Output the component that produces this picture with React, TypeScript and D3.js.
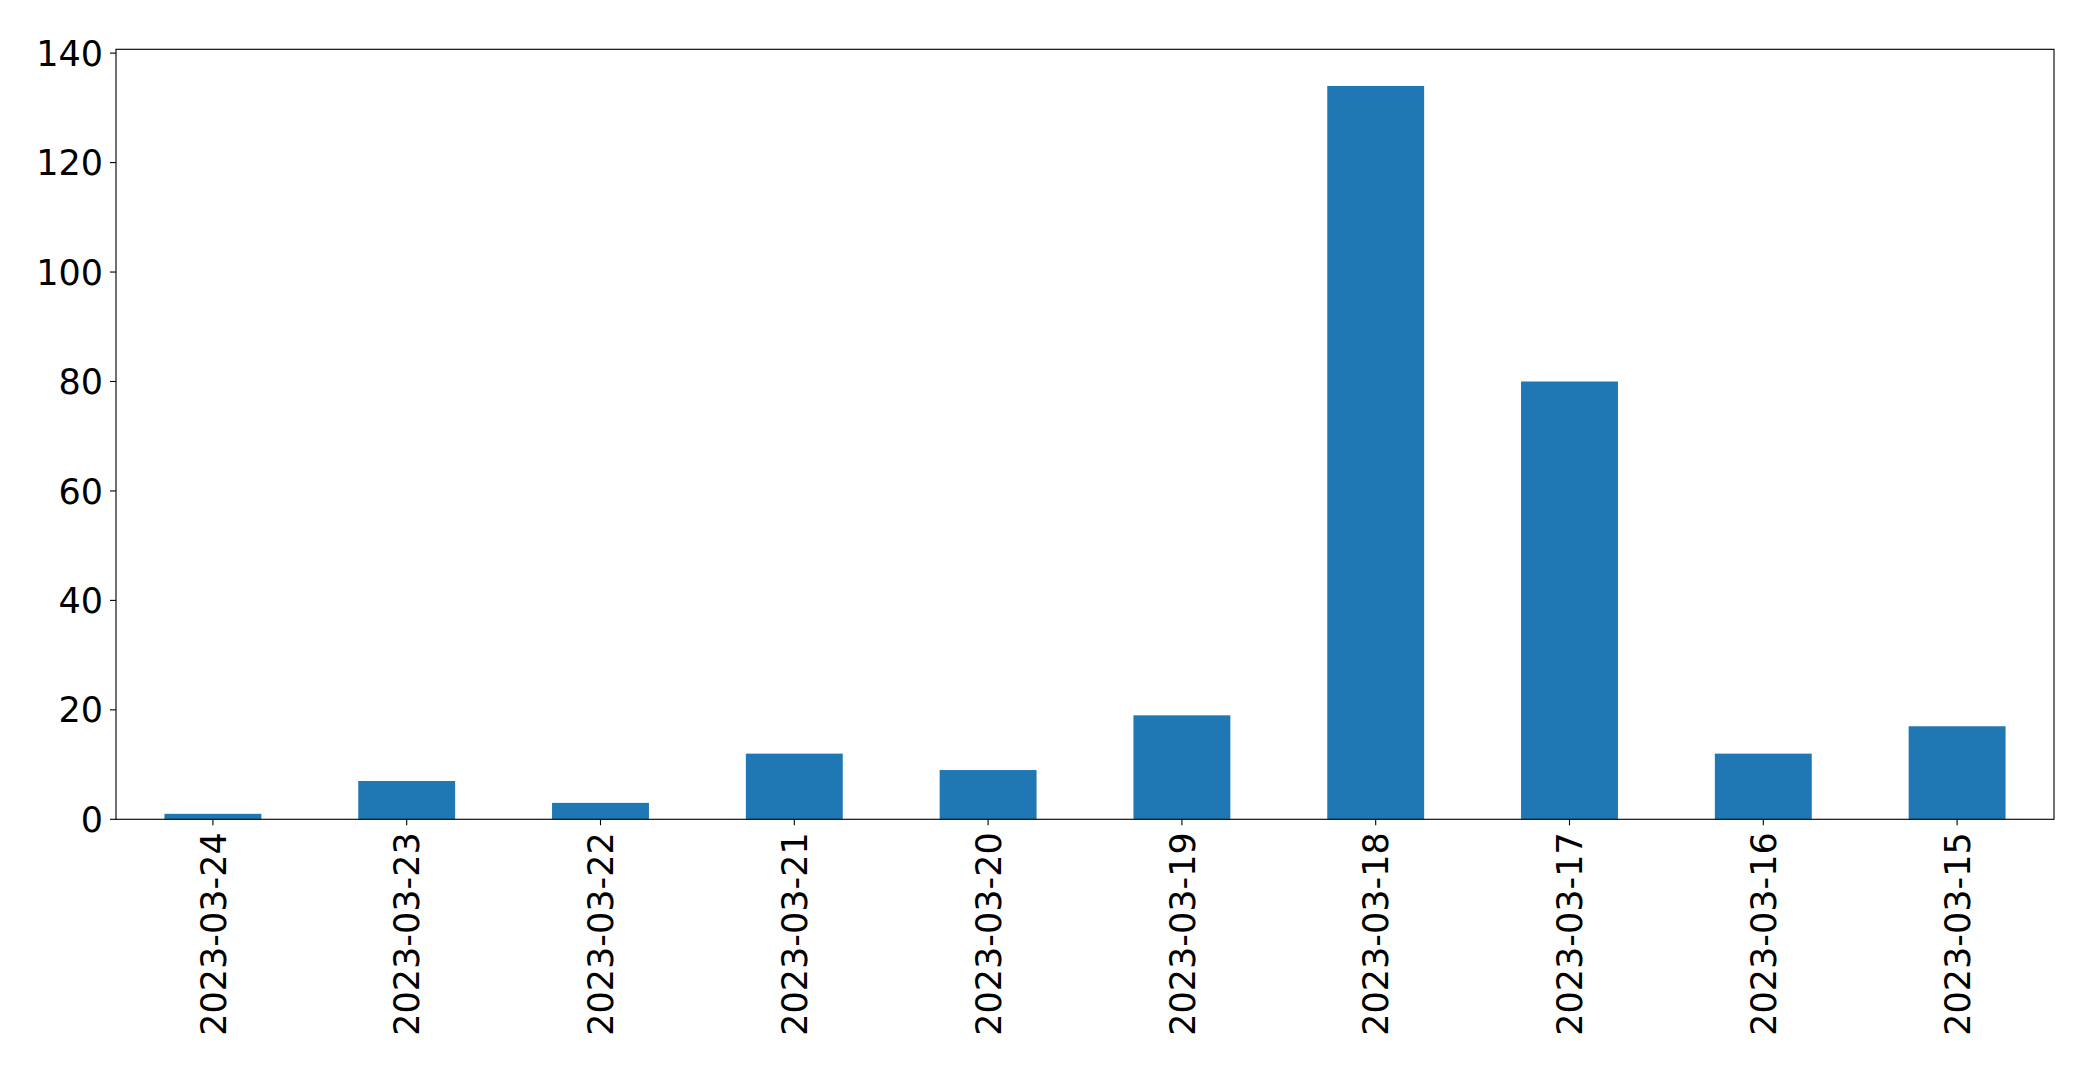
import React from "react";
import * as d3 from "d3";

const categories = ["2023-03-24","2023-03-23","2023-03-22","2023-03-21","2023-03-20","2023-03-19","2023-03-18","2023-03-17","2023-03-16","2023-03-15"];
const values = [1, 7, 3, 12, 9, 19, 134, 80, 12, 17];
const yTicks = [0, 20, 40, 60, 80, 100, 120, 140];

const W = 2093, H = 1071;
const left = 116, right = 2054, top = 49.3, bottom = 819.3;
const fontSize = 35;
const font = "'DejaVu Sans', sans-serif";

export default function App() {
  const x = d3.scaleLinear().domain([-0.5, categories.length - 0.5]).range([left, right]);
  const ymax = d3.max(values)! * 1.05;
  const y = d3.scaleLinear().domain([0, ymax]).range([bottom, top]);
  const bw = (x(0.25) - x(-0.25));
  const tickLen = 6, pad = 7;
  return (
    <div style={{ position: "absolute", left: 0, top: 0 }}>
      <svg width={W} height={H} style={{ display: "block", background: "#fff" }}>
        {values.map((v, i) => (
          <rect key={i} x={x(i) - bw / 2} y={y(v)} width={bw} height={y(0) - y(v)} fill="#1f77b4" />
        ))}
        <rect x={left} y={top} width={right - left} height={bottom - top} fill="none" stroke="#000" strokeWidth={1.11} />
        {yTicks.map((t) => (
          <g key={t}>
            <line x1={left - tickLen} x2={left} y1={y(t)} y2={y(t)} stroke="#000" strokeWidth={1.11} />
            <text x={left - tickLen - pad} y={y(t)} dy="0.36em" textAnchor="end" fontFamily={font} fontSize={fontSize} fill="#000">{t}</text>
          </g>
        ))}
        {categories.map((c, i) => (
          <g key={c}>
            <line x1={x(i)} x2={x(i)} y1={bottom} y2={bottom + tickLen} stroke="#000" strokeWidth={1.11} />
            <text transform={`translate(${x(i)},${bottom + tickLen + pad}) rotate(-90)`} dy="0.36em" textAnchor="end" fontFamily={font} fontSize={fontSize} fill="#000">{c}</text>
          </g>
        ))}
      </svg>
    </div>
  );
}
